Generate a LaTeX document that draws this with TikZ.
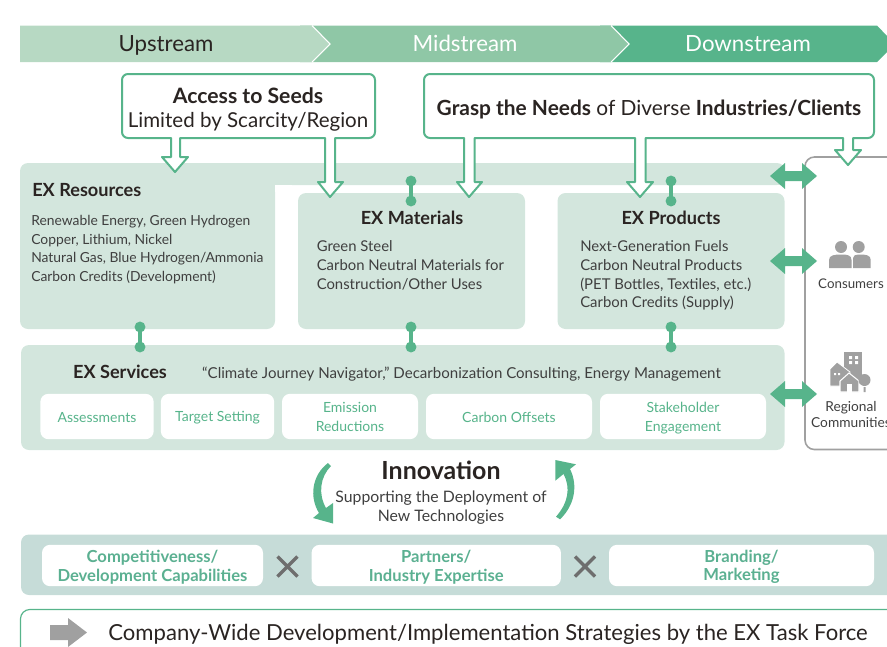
\documentclass[tikz,border=0pt]{standalone}
\usepackage{fontspec}
\setmainfont{Lato}
\definecolor{upc}{HTML}{B7D9C3}
\definecolor{midc}{HTML}{8FC7A6}
\definecolor{downc}{HTML}{57B48B}
\definecolor{panel}{HTML}{D3E6DD}
\definecolor{bandc}{HTML}{C6DCD8}
\definecolor{ink}{HTML}{2A2422}
\definecolor{body}{HTML}{3F3F3F}
\definecolor{greyc}{HTML}{A0A0A0}
\definecolor{crossc}{HTML}{6E6E6E}
\definecolor{boldgreen}{HTML}{5BB091}
\newcommand{\fs}[1]{\fontsize{#1}{#1}\selectfont}
\tikzset{
 panelbox/.style={fill=panel,rounded corners=6},
 whitebox/.style={fill=white,rounded corners=6},
 call/.style={draw=downc,line width=1.5pt,fill=white,line join=round},
 lab/.style={inner sep=0,anchor=base,text=ink},
 headt/.style={lab,font=\fs{13.6}\bfseries},
 bodytxt/.style={inner sep=0,anchor=north west,align=left,text=body,font=\fontsize{10.4}{14}\selectfont},
 bodytxtb/.style={bodytxt,font=\fontsize{11.15}{14}\selectfont},
 svc/.style={inner sep=0,align=center,text=downc,font=\fontsize{10.5}{14.2}\selectfont},
 strt/.style={inner sep=0,align=center,text=boldgreen,font=\fontsize{12.45}{14.2}\selectfont\bfseries},
 bandt/.style={inner sep=0,anchor=base,font=\fs{16.7}},
 dotn/.style={circle,fill=downc,minimum size=8.2pt,inner sep=0},
 linkl/.style={draw=downc,line width=2.3pt},
 dbl/.style={fill=downc},
 pp/.style={fill=greyc},
 crossl/.style={draw=crossc,line width=2.6pt},
}
\begin{document}
\begin{tikzpicture}[x=0.75pt,y=-0.75pt]
\useasboundingbox (0,0) rectangle (887,646);
\clip (0,0) rectangle (887,646);
% stream band
\fill[downc] (600,25.5) -- (877,25.5) -- (887,36) -- (887,52) -- (877,62) -- (600,62) -- cycle;
\fill[midc] (300,25.5) -- (611,25.5) -- (629,44) -- (611,62) -- (300,62) -- cycle;
\fill[upc] (20,25.5) -- (312,25.5) -- (330,44) -- (312,62) -- (20,62) -- cycle;
\draw[white,line width=0.8pt] (312,25.5) -- (330,44) -- (312,62);
\draw[white,line width=0.8pt] (611,25.5) -- (629,44) -- (611,62);
\node[bandt,text=ink] (up) at (166,51) {Upstream};
\node[bandt,text=white] (mid) at (465,51) {Midstream};
\node[bandt,text=white] (down) at (748,51) {Downstream};
% panels
\fill[panel,rounded corners=6] (20,329) -- (20,163) -- (785,163) -- (785,185) -- (275,185) -- (275,329) -- cycle;
\fill[white] (275,185) rectangle (292,192);
\fill[panel] (770,172) rectangle (785,185);
\fill[panelbox] (298,193) rectangle (525,329);
\fill[panelbox] (557.5,193) rectangle (784.5,329);
\fill[panelbox] (21,345) rectangle (784.5,450);
% consumer box
\draw[greyc,line width=1.2pt,rounded corners=7] (900,157) -- (805,157) -- (805,449.5) -- (900,449.5);
% callouts
\path[call] (128,74) -- (369,74) to[out=0,in=90] (375,80) -- (375,132) to[out=-90,in=0] (369,138)
 -- (335,138) -- (335,182) -- (343,182) -- (330,197) -- (318,182) -- (325,182) -- (325,138)
 -- (180,138) -- (180,157) -- (188,157) -- (175,172) -- (162,157) -- (171,157) -- (171,138)
 -- (128,138) to[out=180,in=-90] (122,132) -- (122,80) to[out=90,in=180] (128,74) -- cycle;
\path[call] (430,74) -- (868,74) to[out=0,in=90] (874,80) -- (874,132) to[out=-90,in=0] (868,138)
 -- (853,138) -- (853,150) -- (861,150) -- (848,165) -- (835,150) -- (843,150) -- (843,138)
 -- (645.5,138) -- (645.5,182) -- (653,182) -- (640,197) -- (627,182) -- (635,182) -- (635,138)
 -- (474.5,138) -- (474.5,182) -- (482,182) -- (469,197) -- (457,182) -- (464,182) -- (464,138)
 -- (430,138) to[out=180,in=-90] (424,132) -- (424,80) to[out=90,in=180] (430,74) -- cycle;
\node[lab,font=\fs{15.9}\bfseries] (seedA) at (248,103) {Access to Seeds};
\node[lab,font=\fs{15.4}] (seedB) at (248,127) {Limited by Scarcity/Region};
\node[lab,font=\fs{15.67}] (needs) at (649,115) {\textbf{Grasp the Needs} of Diverse \textbf{Industries/Clients}};
% links
\node[dotn] (d1a) at (411,181) {}; \node[dotn] (d1b) at (411,201) {};
\node[dotn] (d2a) at (671,181) {}; \node[dotn] (d2b) at (671,201) {};
\node[dotn] (d3a) at (140,327) {}; \node[dotn] (d3b) at (140,347) {};
\node[dotn] (d4a) at (411,327) {}; \node[dotn] (d4b) at (411,347) {};
\node[dotn] (d5a) at (671,327) {}; \node[dotn] (d5b) at (671,347) {};
\draw[linkl] (d1a.center)--(d1b.center); \draw[linkl] (d2a.center)--(d2b.center); \draw[linkl] (d3a.center)--(d3b.center); \draw[linkl] (d4a.center)--(d4b.center); \draw[linkl] (d5a.center)--(d5b.center);
% double arrows
\foreach \yy in {176,261,394}{
 \fill[dbl] (770,\yy) -- (785,\yy-13) -- (785,\yy-5) -- (802,\yy-5) -- (802,\yy-13) -- (817,\yy) -- (802,\yy+13) -- (802,\yy+5) -- (785,\yy+5) -- (785,\yy+13) -- cycle;
}
% panel text
\node[headt,anchor=base west] (hres) at (32,196) {EX Resources};
\node[bodytxt] (tres) at (31,215) {Renewable Energy, Green Hydrogen\\Copper, Lithium, Nickel\\Natural Gas, Blue Hydrogen/Ammonia\\Carbon Credits (Development)};
\node[headt] (hmat) at (412,224) {EX Materials};
\node[bodytxtb] (tmat) at (316.5,240.5) {Green Steel\\Carbon Neutral Materials for\\Construction/Other Uses};
\node[headt] (hpro) at (671,224) {EX Products};
\node[bodytxtb] (tpro) at (580,240.5) {Next-Generation Fuels\\Carbon Neutral Products\\(PET Bottles, Textiles, etc.)\\Carbon Credits (Supply)};
\node[headt] (hsvc) at (120,378) {EX Services};
\node[inner sep=0,anchor=base,text=body,font=\fs{11.3}] (tsvc) at (461.5,378.5) {“Climate Journey Navigator,” Decarbonization Consulting, Energy Management};
% service boxes
\node[whitebox,minimum width=85pt,minimum height=34pt,inner sep=0] (s1) at (97,416.5) {};
\node[whitebox,minimum width=85pt,minimum height=34pt,inner sep=0] (s2) at (217.5,416.5) {};
\node[whitebox,minimum width=102pt,minimum height=34pt,inner sep=0] (s3) at (350,416.5) {};
\node[whitebox,minimum width=124.5pt,minimum height=34pt,inner sep=0] (s4) at (509,416.5) {};
\node[whitebox,minimum width=124.5pt,minimum height=34pt,inner sep=0] (s5) at (683,416.5) {};
\node[svc] at ([yshift=-0.7pt]s1) {Assessments};
\node[svc] at ([yshift=-0.7pt]s2) {Target Setting};
\node[svc] at (s3) {Emission\\Reductions};
\node[svc] at ([yshift=-0.7pt]s4) {Carbon Offsets};
\node[svc] at ([yshift=-1pt]s5) {Stakeholder\\Engagement};
% innovation
\node[lab,font=\fs{18.7}\bfseries] (inn) at (441,479) {Innovation};
\node[inner sep=0,align=center,text=body,font=\fontsize{11.85}{14}\selectfont] (innt) at (441,507.5) {Supporting the Deployment of\\New Technologies};
\fill[downc] (328,463) .. controls (312,475) and (309,497) .. (319,513) -- (313,518) -- (333,523.5) -- (333,503) -- (326,508) .. controls (318,494) and (320,477) .. (331,466) -- cycle;
\fill[downc] (555.3,460) -- (576,464.3) -- (570,469) .. controls (578,485) and (575,505) .. (560,519.3) -- (556,516.7) .. controls (568,503) and (571,488) .. (563.5,474) -- (555.3,480.7) -- cycle;
% bottom band
\fill[bandc,rounded corners=6] (900,534.5) -- (21,534.5) -- (21,595) -- (900,595) -- cycle;
\node[whitebox,minimum width=165.75pt,minimum height=31pt,inner sep=0] (b1) at (152.5,565.5) {};
\node[whitebox,minimum width=187pt,minimum height=31pt,inner sep=0] (b2) at (436.25,565.5) {};
\node[whitebox,minimum width=198.75pt,minimum height=31pt,inner sep=0] (b3) at (741.5,565.5) {};
\node[strt] at ([yshift=-1pt]b1) {Competitiveness/\\Development Capabilities};
\node[strt] at ([yshift=-1pt]b2) {Partners/\\Industry Expertise};
\node[strt] at ([yshift=-1pt]b3) {Branding/\\Marketing};
\draw[crossl] (277.5,556.5) -- (297.5,576.5) (297.5,556.5) -- (277.5,576.5);
\draw[crossl] (575,556.5) -- (595,576.5) (595,556.5) -- (575,576.5);
% bottom box
\draw[downc,line width=0.9pt,rounded corners=7] (900,609.5) -- (20.5,609.5) -- (20.5,660);
\fill[greyc] (50,625) -- (68,625) -- (68,618) -- (87,632.5) -- (68,647) -- (68,640) -- (50,640) -- cycle;
\node[lab,font=\fs{16.57}] (task) at (488,640) {Company-Wide Development/Implementation Strategies by the EX Task Force};
% consumers
\fill[pp] (841,247) circle (6) (858.7,247) circle (6);
\fill[pp] (829,268) -- (829,260) .. controls (829,255) and (835,254.5) .. (841,254.5) .. controls (847,254.5) and (851.5,255) .. (851.5,260) -- (851.5,268) -- cycle;
\fill[pp] (853,268) -- (853,258) .. controls (853,255) and (856,254.5) .. (859,254.5) .. controls (866,254.5) and (870.7,255) .. (870.7,260) -- (870.7,268) -- cycle;
\node[inner sep=0,anchor=base,text=body,font=\fs{10}] (cons) at (851,288) {Consumers};
% community
\fill[pp] (844,352) rectangle (862,384);
\fill[white] (849,356) rectangle (852,359) (855,356) rectangle (858,359) (849,361) rectangle (852,364) (855,361) rectangle (858,364);
\fill[pp,draw=white,line width=0.6pt] (830,386) -- (830,369) -- (837,362) -- (850,372) -- (850,386) -- cycle;
\fill[white] (834,373) rectangle (836,375) (838,373) rectangle (840,375);
\fill[pp,draw=white,line width=0.8pt] (840,392) -- (840,381) -- (849,373) -- (859,381) -- (859,392) -- cycle;
\fill[white] (846.5,384) rectangle (851.5,392.5);
\fill[pp] (864.5,380) circle (6) (863.5,387) rectangle (865.5,392);
\node[inner sep=0,align=center,text=body,font=\fontsize{10.3}{12}\selectfont] (comm) at (851,414.5) {Regional\\Communities};
\end{tikzpicture}
\end{document}
